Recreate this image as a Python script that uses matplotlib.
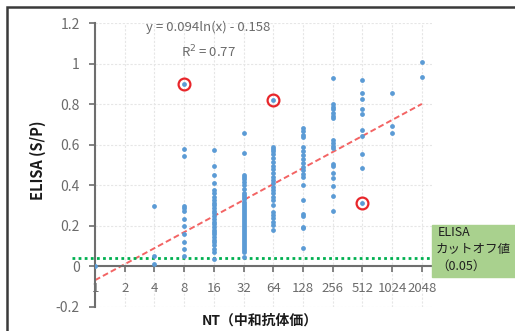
import numpy as np
import matplotlib
matplotlib.use("Agg")
import matplotlib.pyplot as plt
from matplotlib.patches import Rectangle

plt.rcParams['font.family'] = ['Noto Sans CJK JP', 'DejaVu Sans']

# NT titres (x) and ELISA S/P values (y), read per column
nt_1 = [0.0]
nt_4 = [0.30, 0.05, 0.01]
nt_8 = [0.90, 0.58, 0.545, 0.30, 0.29, 0.275, 0.235, 0.20, 0.16, 0.12, 0.085, 0.05]
nt_16 = [0.575, 0.493, 0.452, 0.413, 0.377, 0.36, 0.34, 0.328, 0.314, 0.303, 0.286,
         0.274, 0.261, 0.248, 0.233, 0.22, 0.207, 0.195, 0.182, 0.17, 0.159, 0.145,
         0.132, 0.121, 0.104, 0.088, 0.071, 0.038]
nt_32 = [0.66, 0.56, 0.45, 0.44, 0.43, 0.415, 0.40, 0.38, 0.36, 0.35, 0.34, 0.33,
         0.32, 0.31, 0.30, 0.29, 0.28, 0.27, 0.26, 0.25, 0.24, 0.23, 0.22, 0.21,
         0.20, 0.19, 0.18, 0.17, 0.16, 0.15, 0.14, 0.13, 0.12, 0.11, 0.10, 0.09,
         0.08, 0.07, 0.046]
nt_64 = [0.82, 0.59, 0.58, 0.567, 0.554, 0.535, 0.513, 0.496, 0.48, 0.46, 0.443,
         0.427, 0.41, 0.394, 0.377, 0.36, 0.344, 0.328, 0.303, 0.27, 0.253, 0.237,
         0.22, 0.203, 0.182]
nt_128 = [0.683, 0.666, 0.65, 0.64, 0.59, 0.567, 0.55, 0.53, 0.51, 0.49, 0.473,
          0.457, 0.44, 0.40, 0.328, 0.258, 0.248, 0.195, 0.187, 0.09]
nt_256 = [0.928, 0.80, 0.787, 0.774, 0.758, 0.744, 0.733, 0.622, 0.609, 0.596,
          0.584, 0.506, 0.493, 0.46, 0.435, 0.397, 0.347, 0.274]
nt_512 = [0.918, 0.855, 0.827, 0.778, 0.75, 0.673, 0.643, 0.555, 0.484, 0.314]
nt_1024 = [0.854, 0.69, 0.66]
nt_2048 = [1.01, 0.935]

columns = {1: nt_1, 4: nt_4, 8: nt_8, 16: nt_16, 32: nt_32, 64: nt_64,
           128: nt_128, 256: nt_256, 512: nt_512, 1024: nt_1024, 2048: nt_2048}

outlier_x = [8, 64, 512]
outlier_y = [0.90, 0.82, 0.314]

x_ticks = [1, 2, 4, 8, 16, 32, 64, 128, 256, 512, 1024, 2048]
y_ticks = [-0.2, 0, 0.2, 0.4, 0.6, 0.8, 1, 1.2]

# trend line as drawn on the chart
trend_slope = 0.114
trend_icpt = -0.068
cutoff = 0.043

W, H = 515, 331
fig = plt.figure(figsize=(W / 100, H / 100), dpi=100)
ax = fig.add_axes([95 / W, 1 - 307 / H, (432 - 95) / W, (307 - 23) / H])

ax.set_xscale('log', base=2)
ax.set_xlim(1, 2 ** 11.34)
ax.set_ylim(-0.2, 1.2)

grid_kw = dict(color='#e6e6e6', lw=0.8, ls=(0, (2, 1.5)), zorder=0)
for xt in x_ticks:
    ax.axvline(xt, **grid_kw)
for yt in y_ticks:
    ax.axhline(yt, **grid_kw)

xs, ys = [], []
for k, vals in columns.items():
    xs += [k] * len(vals)
    ys += vals
ax.scatter(xs, ys, s=12, color='#5b9bd5', linewidths=0, zorder=3)

ax.plot(outlier_x, outlier_y, 'o', ms=8.5, mfc='none', mec='#e8262b', mew=1.6, zorder=4)

tx = np.geomspace(1, 2048, 60)
ax.plot(tx, trend_slope * np.log(tx) + trend_icpt, color='#f36464', lw=1.4,
        ls=(0, (3, 1.6)), zorder=2)

ax.plot([-0.068, 1.0], [cutoff, cutoff], transform=ax.get_yaxis_transform(),
        color='#00b050', lw=2, ls=(0, (1, 1.2)), clip_on=False, zorder=2)

for s in ['top', 'right']:
    ax.spines[s].set_visible(False)
ax.spines['bottom'].set_position(('data', 0))
ax.spines['bottom'].set_color('#6e6e6e')
ax.spines['bottom'].set_linewidth(1.5)
ax.spines['left'].set_color('#6e6e6e')
ax.spines['left'].set_linewidth(1.5)

ax.set_xticks(x_ticks)
ax.set_xticklabels([str(t) for t in x_ticks])
ax.xaxis.set_minor_locator(plt.NullLocator())
ax.set_yticks(y_ticks)
ax.set_yticklabels(['-0.2', '0', '0.2', '0.4', '0.6', '0.8', '1', '1.2'])
ax.tick_params(axis='x', direction='out', length=4, width=1.2, color='#6e6e6e',
               pad=7, labelsize=9.5, labelcolor='#6b6b6b')
ax.tick_params(axis='y', direction='out', length=4, width=1.2, color='#6e6e6e',
               pad=7, labelsize=10, labelcolor='#6b6b6b')

ax.text(14, 1.18, 'y = 0.094ln(x) - 0.158', ha='center', va='center',
        fontsize=9.5, color='#6b6b6b')
ax.text(14, 1.057, 'R$^2$ = 0.77', ha='center', va='center',
        fontsize=9.5, color='#6b6b6b')

fig.text(38 / W, 1 - 160 / H, 'ELISA (S/P)', rotation=90, ha='center', va='center',
         fontsize=10.5, fontweight='bold', color='#1a1a1a')
fig.text(260 / W, 1 - 321 / H, 'NT（中和抗体価）', ha='center', va='center',
         fontsize=10, fontweight='bold', color='#1a1a1a')

# cut-off label box
fig.patches.append(Rectangle((432 / W, 1 - 277 / H), 0.2, 52 / H,
                             transform=fig.transFigure, color='#a9d18e', zorder=5))
fig.text(438 / W, 1 - 232 / H, 'ELISA', ha='left', va='center', fontsize=9, color='#1f1f1f', zorder=6)
fig.text(436 / W, 1 - 249 / H, 'カットオフ値', ha='left', va='center', fontsize=9, color='#1f1f1f', zorder=6)
fig.text(436 / W, 1 - 266 / H, '（0.05）', ha='left', va='center', fontsize=9, color='#1f1f1f', zorder=6)

# outer frame of the original figure
fig.patches.append(Rectangle((7 / W, -0.1), 1.2, 1 - 7 / H + 0.1,
                             transform=fig.transFigure, fill=False, ec='#3a3a3a', lw=1.8))

fig.savefig('out.png', dpi=100)
